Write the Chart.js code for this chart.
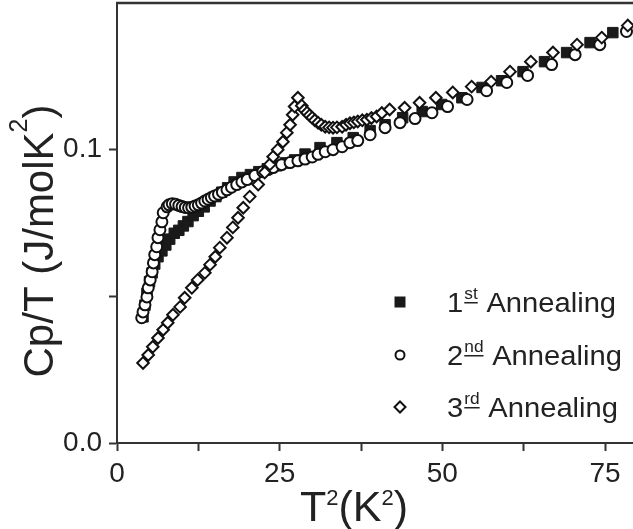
<!DOCTYPE html>
<html>
<head>
<meta charset="utf-8">
<script src="https://cdn.jsdelivr.net/npm/chart.js@4.4.0/dist/chart.umd.min.js"></script>
<style>
  html, body { margin: 0; padding: 0; background: #fff; }
</style>
</head>
<body>
<canvas id="myChart" width="633" height="529"></canvas>
<script>
const FONT = "'Liberation Sans', Arial, Helvetica, sans-serif";

// T^2 (K^2) against Cp/T (J/molK^2)
const t2First = [4.0, 4.3, 4.6, 5.0, 5.4, 5.8, 6.3, 6.9, 7.5, 8.1, 8.8, 9.5, 10.2, 10.9, 11.7, 12.5,
  13.4, 14.3, 15.2, 16.1, 17.0, 18.0, 19.2, 20.5, 21.8, 23.1, 24.5, 25.9, 27.3, 28.9, 31.2, 33.8,
  36.3, 38.9, 41.2, 43.9, 46.9, 49.9, 53.0, 56.1, 59.1, 62.4, 65.7, 69.1, 72.7, 76.2];
const cpFirst = [0.043, 0.047, 0.051, 0.055, 0.058, 0.061, 0.0635, 0.0655, 0.0675, 0.0695, 0.0715, 0.0725,
  0.074, 0.0755, 0.0775, 0.079, 0.0805, 0.0825, 0.084, 0.0855, 0.087, 0.089, 0.0905, 0.0915, 0.0925,
  0.0935, 0.0945, 0.0955, 0.0965, 0.0985, 0.1007, 0.1024, 0.1041, 0.1065, 0.1085, 0.1109, 0.113,
  0.1154, 0.1177, 0.1212, 0.1235, 0.1266, 0.13, 0.1331, 0.1365, 0.1399];

const t2Second = [3.8, 4.0, 4.3, 4.6, 4.8, 5.1, 5.4, 5.6, 5.8, 6.1, 6.3, 6.6, 6.9, 7.1, 7.7, 8.0, 8.5,
  9.0, 9.5, 10.0, 10.5, 11.0, 11.5, 12.0, 12.5, 13.0, 13.5, 14.0, 14.5, 15.0, 15.6, 16.2, 16.9, 17.6,
  18.4, 19.2, 20.0, 21.2, 22.4, 23.2, 24.0, 25.3, 26.6, 27.8, 28.9, 30.0, 30.9, 32.0, 33.2, 34.6, 35.8,
  37.0, 38.9, 41.2, 43.5, 45.8, 48.4, 50.8, 53.8, 56.8, 59.9, 63.1, 66.8, 70.4, 74.2, 78.3];
const cpSecond = [0.0427, 0.0447, 0.0471, 0.0498, 0.0529, 0.0556, 0.0584, 0.0614, 0.0642, 0.0669, 0.07,
  0.0727, 0.0754, 0.0785, 0.0805, 0.0812, 0.0816, 0.0814, 0.081, 0.0806, 0.0803, 0.0802, 0.0804, 0.0808,
  0.0812, 0.0818, 0.0825, 0.0831, 0.0837, 0.0842, 0.0848, 0.0855, 0.0863, 0.0872, 0.0881, 0.089, 0.0898,
  0.0912, 0.0925, 0.0932, 0.0939, 0.0949, 0.0956, 0.0962, 0.0968, 0.0975, 0.0984, 0.0993, 0.1, 0.101,
  0.1024, 0.1031, 0.1051, 0.1075, 0.1092, 0.1106, 0.1126, 0.1147, 0.1171, 0.1201, 0.1229, 0.1253, 0.129,
  0.1324, 0.1358, 0.1403];

const t2Third = [4.0, 4.8, 5.5, 6.3, 7.1, 7.8, 8.6, 9.7, 10.4, 11.5, 12.4, 13.5, 14.3, 15.1, 15.8, 16.9,
  17.8, 18.6, 19.4, 20.4, 21.7, 22.7, 23.5, 24.0, 24.7, 25.5, 26.1, 26.6, 27.0, 27.3, 27.8, 28.4, 28.8,
  29.2, 29.6, 30.0, 30.4, 30.9, 31.4, 32.0, 32.6, 33.2, 33.8, 34.6, 35.2, 35.8, 36.4, 37.0, 37.7, 38.4,
  39.1, 39.9, 40.7, 41.9, 44.2, 46.5, 49.0, 51.6, 54.5, 57.5, 60.4, 63.6, 67.0, 70.7, 74.5, 78.5];
const cpThird = [0.0273, 0.03, 0.0328, 0.0358, 0.0386, 0.041, 0.0437, 0.0464, 0.0495, 0.0529, 0.0556,
  0.058, 0.0608, 0.0635, 0.0666, 0.07, 0.0735, 0.0768, 0.0802, 0.084, 0.0881, 0.0922, 0.095, 0.0976, 0.1,
  0.1027, 0.1058, 0.1085, 0.1119, 0.1147, 0.1177, 0.115, 0.1135, 0.1126, 0.1117, 0.1109, 0.11, 0.1092,
  0.1085, 0.1078, 0.1076, 0.1075, 0.1076, 0.1078, 0.1085, 0.109, 0.1093, 0.1096, 0.11, 0.1102, 0.1108,
  0.1113, 0.1125, 0.1137, 0.1143, 0.116, 0.1177, 0.1195, 0.1215, 0.1232, 0.1266, 0.13, 0.1331, 0.1358,
  0.1382, 0.1423];

const xTickValues = [0, 12.5, 25, 37.5, 50, 62.5, 75];
const xTickLabels = ["0", "", "25", "", "50", "", "75"];
const yTickValues = [0, 0.05, 0.1];
const yTickLabels = ["0.0", "", "0.1"];
const legendLabels = [["1", "st"], ["2", "nd"], ["3", "rd"]];
const legendStyles = ["rect", "circle", "rectRot"];

function toPoints(xs, ys) {
  return xs.map((x, i) => ({ x: x, y: ys[i] }));
}

function drawMarker(ctx, style, x, y) {
  ctx.save();
  ctx.strokeStyle = "#111";
  ctx.lineWidth = 2;
  ctx.beginPath();
  if (style === "rect") {
    ctx.fillStyle = "#1a1a1a";
    ctx.rect(x - 5.5, y - 5.5, 11, 11);
    ctx.fill();
  } else if (style === "circle") {
    ctx.fillStyle = "#fff";
    ctx.arc(x, y, 4.5, 0, Math.PI * 2);
    ctx.fill();
    ctx.stroke();
  } else {
    ctx.fillStyle = "#fff";
    ctx.moveTo(x, y - 5.5);
    ctx.lineTo(x + 5.5, y);
    ctx.lineTo(x, y + 5.5);
    ctx.lineTo(x - 5.5, y);
    ctx.closePath();
    ctx.fill();
    ctx.stroke();
  }
  ctx.restore();
}

// axis titles with superscripts, legend inside the plot, top frame line
const extras = {
  id: "extras",
  afterDraw(chart) {
    const ctx = chart.ctx;
    const area = chart.chartArea;
    ctx.save();

    ctx.strokeStyle = "#333";
    ctx.lineWidth = 2.5;
    ctx.beginPath();
    ctx.moveTo(area.left - 1, area.top);
    ctx.lineTo(area.right, area.top);
    ctx.stroke();

    ctx.fillStyle = "#222";
    ctx.textBaseline = "alphabetic";
    ctx.textAlign = "left";

    // y title
    ctx.save();
    ctx.translate(53, 241);
    ctx.rotate(-Math.PI / 2);
    ctx.font = "42px " + FONT;
    const ya = "Cp/T (J/molK", yc = ")";
    const wa = ctx.measureText(ya).width, wc = ctx.measureText(yc).width;
    ctx.font = "25px " + FONT;
    const wb = ctx.measureText("2").width;
    let x0 = -(wa + wb + wc) / 2;
    ctx.font = "42px " + FONT;
    ctx.fillText(ya, x0, 0);
    ctx.font = "25px " + FONT;
    ctx.fillText("2", x0 + wa, -26);
    ctx.font = "42px " + FONT;
    ctx.fillText(yc, x0 + wa + wb, 0);
    ctx.restore();

    // x title
    const parts = [["T", 0], ["2", 1], ["(K", 0], ["2", 1], [")", 0]];
    let total = 0;
    parts.forEach(p => {
      ctx.font = (p[1] ? "22px " : "43px ") + FONT;
      total += ctx.measureText(p[0]).width;
    });
    let cx = 354 - total / 2;
    parts.forEach(p => {
      ctx.font = (p[1] ? "22px " : "43px ") + FONT;
      ctx.fillText(p[0], cx, p[1] ? 505 : 521);
      cx += ctx.measureText(p[0]).width;
    });

    // legend
    const rows = [302, 355, 407];
    legendLabels.forEach((lab, i) => {
      const by = rows[i] + 10;
      drawMarker(ctx, legendStyles[i], 400, rows[i]);
      ctx.save();
      ctx.translate(447, by);
      ctx.scale(1.08, 1);
      ctx.font = "27px " + FONT;
      ctx.fillText(lab[0], 0, 0);
      let px = ctx.measureText(lab[0]).width + 1;
      ctx.font = "16px " + FONT;
      ctx.fillText(lab[1], px, -13);
      const sw = ctx.measureText(lab[1]).width;
      ctx.fillRect(px, -10, sw, 1.5);
      px += sw + 8;
      ctx.font = "27px " + FONT;
      ctx.fillText("Annealing", px, 0);
      ctx.restore();
    });

    ctx.restore();
  }
};

const ctx = document.getElementById("myChart").getContext("2d");
const myChart = new Chart(ctx, {
  type: "scatter",
  data: {
    datasets: [
      {
        label: "1st Annealing",
        data: toPoints(t2First, cpFirst),
        pointStyle: "rect",
        pointRadius: 7.4,
        backgroundColor: "#1a1a1a",
        borderColor: "#1a1a1a",
        borderWidth: 1,
        order: 3,
      },
      {
        label: "2nd Annealing",
        data: toPoints(t2Second, cpSecond),
        pointStyle: "circle",
        pointRadius: 5.5,
        backgroundColor: "#fff",
        borderColor: "#111",
        borderWidth: 2,
        order: 2,
      },
      {
        label: "3rd Annealing",
        data: toPoints(t2Third, cpThird),
        pointStyle: "rectRot",
        pointRadius: 5.8,
        backgroundColor: "#fff",
        borderColor: "#111",
        borderWidth: 2,
        order: 1,
      },
    ],
  },
  options: {
    responsive: false,
    animation: false,
    devicePixelRatio: 1,
    layout: { autoPadding: false, padding: { top: 3, right: 0, left: 0, bottom: 0 } },
    plugins: {
      legend: { display: false },
      tooltip: { enabled: false },
    },
    scales: {
      x: {
        type: "linear",
        min: 0,
        max: 79.3,
        afterBuildTicks: (scale) => { scale.ticks = xTickValues.map(v => ({ value: v })); },
        afterFit: (scale) => {
          scale.height = 86;
          scale.paddingLeft = 0;
          scale.paddingRight = 0;
        },
        ticks: {
          callback: (v, i) => xTickLabels[i],
          font: { family: FONT, size: 28 },
          color: "#222",
          padding: 6,
          maxRotation: 0,
          autoSkip: false,
        },
        grid: { drawOnChartArea: false, tickLength: 8, tickColor: "#333", tickWidth: 2 },
        border: { color: "#333", width: 2 },
      },
      y: {
        type: "linear",
        min: 0,
        max: 0.15,
        afterBuildTicks: (scale) => { scale.ticks = yTickValues.map(v => ({ value: v })); },
        afterFit: (scale) => {
          scale.width = 117;
          scale.paddingTop = 0;
          scale.paddingBottom = 0;
        },
        ticks: {
          callback: (v, i) => yTickLabels[i],
          font: { family: FONT, size: 28 },
          color: "#222",
          padding: 7,
          autoSkip: false,
        },
        grid: { drawOnChartArea: false, tickLength: 8, tickColor: "#333", tickWidth: 2 },
        border: { color: "#333", width: 2 },
      },
    },
  },
  plugins: [extras],
});
</script>
</body>
</html>
